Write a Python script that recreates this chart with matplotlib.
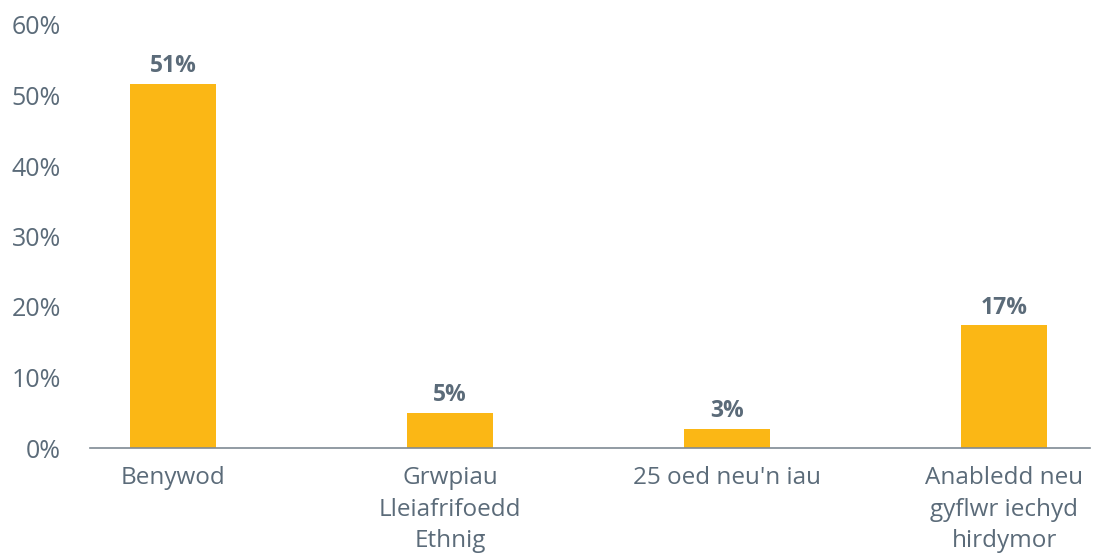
import matplotlib
matplotlib.use("Agg")
import matplotlib.pyplot as plt
from matplotlib.ticker import FuncFormatter

categories = ["Benywod", "Grwpiau\nLleiafrifoedd\nEthnig", "25 oed neu'n iau", "Anabledd neu\ngyflwr iechyd\nhirdymor"]
values = [51.7, 5.0, 2.7, 17.4]
value_labels = ["51%", "5%", "3%", "17%"]
yticks = [0, 10, 20, 30, 40, 50, 60]

text_color = "#5B6B79"
bar_color = "#FBB715"

plt.rcParams['font.family'] = ['Open Sans', 'DejaVu Sans']

fig = plt.figure(figsize=(10.99, 5.57), dpi=100)
ax = fig.add_axes([90/1099, 1-448/557, 1000/1099, 423/557])

x = list(range(len(categories)))
bars = ax.bar(x, values, width=0.31, color=bar_color, zorder=2)
for xi, v, lab in zip(x, values, value_labels):
    ax.annotate(lab, (xi, v), xytext=(0, 4), textcoords="offset points",
                ha="center", va="bottom", fontsize=16.5, fontweight="bold", color=text_color)

ax.set_xlim(-0.3, 3.31)
ax.set_ylim(0, 60)
ax.set_yticks(yticks)
ax.yaxis.set_major_formatter(FuncFormatter(lambda v, p: f"{int(v)}%"))
ax.set_xticks(x)
ax.set_xticklabels(categories, linespacing=1.42)

for s in ["top", "right", "left"]:
    ax.spines[s].set_visible(False)
ax.spines["bottom"].set_color("#7F8A94")
ax.spines["bottom"].set_linewidth(1.2)

ax.tick_params(axis="y", length=0, pad=21, labelsize=18, labelcolor=text_color)
ax.tick_params(axis="x", length=0, pad=13, labelsize=17.5, labelcolor=text_color)

fig.savefig("out.png", dpi=100)
